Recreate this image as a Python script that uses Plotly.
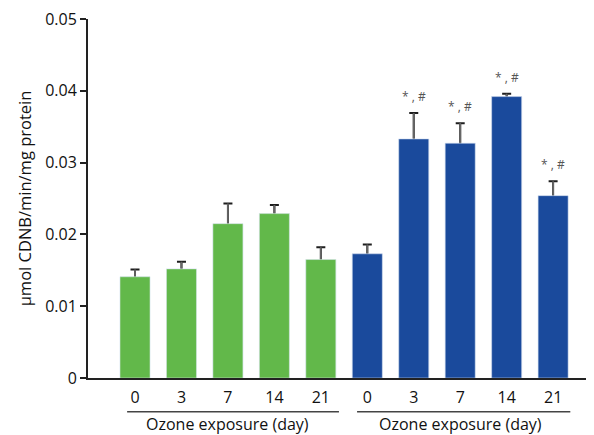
import plotly.graph_objects as go

days = ["0", "3", "7", "14", "21"]
control_vals = [0.0141, 0.0152, 0.0215, 0.0229, 0.0165]
control_err = [0.0010, 0.0010, 0.0028, 0.0012, 0.0017]
ozone_vals = [0.0173, 0.0333, 0.0327, 0.0392, 0.0254]
ozone_err = [0.0013, 0.0036, 0.0028, 0.0004, 0.0020]
ozone_marks = ["", "* , #", "* , #", "* , #", "* , #"]
group_label = "Ozone exposure (day)"
y_title = "μmol CDNB/min/mg protein"
y_ticks = [0, 0.01, 0.02, 0.03, 0.04, 0.05]
y_ticktext = ["0", "0.01", "0.02", "0.03", "0.04", "0.05"]

GREEN = "#62B84A"
BLUE = "#1A4A9C"
FONT = "Open Sans"
BW = 0.646

xc = list(range(0, 5))
xo = list(range(5, 10))

fig = go.Figure()
# error bars first (hidden bars), so the visible bars cover the lower halves
for xs, vals, errs in [(xc, control_vals, control_err), (xo, ozone_vals, ozone_err)]:
    # black caps
    fig.add_trace(go.Bar(
        x=xs, y=vals, width=BW, marker_color="rgba(0,0,0,0)",
        error_y=dict(type="data", array=errs, color="#1e1e1e", thickness=2, width=4.5),
        showlegend=False, hoverinfo="skip"))
    # grey stems over the black ones
    fig.add_trace(go.Bar(
        x=xs, y=vals, width=BW, marker_color="rgba(0,0,0,0)",
        error_y=dict(type="data", array=errs, color="#666666", thickness=1.8, width=0),
        showlegend=False, hoverinfo="skip"))
fig.add_trace(go.Bar(x=xc, y=control_vals, marker_color=GREEN, width=BW, showlegend=False))
fig.add_trace(go.Bar(x=xo, y=ozone_vals, marker_color=BLUE, width=BW, showlegend=False))

annotations = []
for i, (v, e, m) in enumerate(zip(ozone_vals, ozone_err, ozone_marks)):
    if m:
        annotations.append(dict(x=xo[i], y=v + e, xref="x", yref="y", text=m,
                                showarrow=False, yanchor="bottom", yshift=6,
                                font=dict(family=FONT, size=12, color="#555555")))
for center in [2, 7]:
    annotations.append(dict(x=center, y=-0.128, xref="x", yref="paper", text=group_label,
                            showarrow=False, yanchor="middle",
                            font=dict(family=FONT, size=16, color="#111111")))

shapes = [
    dict(type="line", xref="x", yref="paper", x0=-0.17, x1=4.39, y0=-0.094, y1=-0.094,
         line=dict(color="#444444", width=1.5)),
    dict(type="line", xref="x", yref="paper", x0=4.78, x1=9.37, y0=-0.094, y1=-0.094,
         line=dict(color="#444444", width=1.5)),
]

# page has an 8px body margin, so the figure is 8px smaller and margins shifted
fig.update_layout(
    width=586, height=427,
    margin=dict(l=80, r=0, t=9, b=57),
    paper_bgcolor="white", plot_bgcolor="white",
    font=dict(family=FONT, size=16, color="#111111"),
    annotations=annotations, shapes=shapes,
    barmode="overlay",
)
fig.update_xaxes(
    range=[-1.012, 9.88], tickvals=xc + xo, ticktext=days + days,
    showline=True, linecolor="#222222", linewidth=2,
    ticks="outside", ticklen=4, tickcolor="rgba(0,0,0,0)",
    showgrid=False, zeroline=False, tickfont=dict(size=16),
)
fig.update_yaxes(
    range=[0, 0.05001], tickvals=y_ticks, ticktext=y_ticktext,
    showline=True, linecolor="#222222", linewidth=2,
    ticks="outside", ticklen=6, tickcolor="#222222", tickwidth=1.5,
    showgrid=False, zeroline=False, tickfont=dict(size=16),
    ticklabeloverflow="allow",
    title=dict(text=y_title, font=dict(size=16.5), standoff=9),
)

fig.write_html("out.html")
